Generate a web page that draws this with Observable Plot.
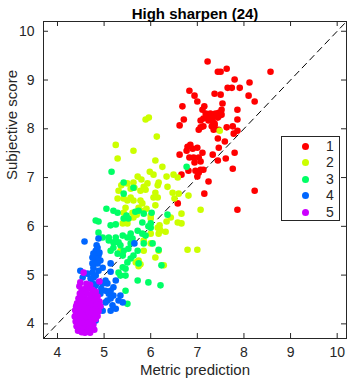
<!DOCTYPE html>
<html><head><meta charset="utf-8">
<script src="https://cdn.jsdelivr.net/npm/d3@7"></script>
<script src="https://cdn.jsdelivr.net/npm/@observablehq/plot@0.6"></script>
<style>
body{margin:0;background:#fff;}
#wrap{position:relative;width:351px;height:385px;font-family:"Liberation Sans",Arial,sans-serif;}
#legend{position:absolute;left:281px;top:136px;width:59px;height:85px;border:1px solid #262626;background:#fff;box-sizing:border-box;}
.lrow{position:absolute;left:0;width:57px;height:16px;}
.lrow .m{position:absolute;left:20px;top:4px;width:7px;height:7px;border-radius:50%;}
.lrow .t{position:absolute;left:44px;top:-1px;font-size:14px;color:#262626;line-height:16px;}
</style></head><body><div id="wrap"></div>
<script>
const groups = ["1","2","3","4","5"];
const colors = ["#ff0000","#ccff00","#00ff66","#0066ff","#cc00ff"];
const xTicks = [4,5,6,7,8,9,10];
const yTicks = [4,5,6,7,8,9,10];
const domain = [3.7, 10.2];
const title = "High sharpen (24)";
const xLabel = "Metric prediction";
const yLabel = "Subjective score";

const g1 = [[7.22,9.38],[7.44,9.17],[7.50,9.17],[7.63,9.23],[8.57,9.17],[7.80,9.01],[8.12,8.95],[7.65,8.84],[7.74,8.84],[7.91,8.84],
[6.83,8.78],[7.37,8.72],[7.50,8.70],[6.94,8.68],[8.10,8.68],[7.00,8.56],[8.23,8.56],[7.54,8.52],[6.68,8.46],[7.15,8.46],
[7.11,8.39],[7.52,8.39],[7.86,8.39],[7.18,8.31],[7.28,8.31],[7.39,8.31],[7.46,8.33],[7.22,8.23],[7.33,8.25],[7.44,8.23],
[7.52,8.29],[6.71,8.19],[7.24,8.17],[7.33,8.15],[7.37,8.11],[7.86,8.19],[6.62,8.07],[7.07,8.03],[7.13,8.05],[7.03,7.98],
[7.31,8.05],[7.37,8.07],[7.35,7.98],[7.63,8.03],[7.76,8.05],[7.86,7.96],[7.78,7.90],[7.46,7.98],[7.44,7.80],[7.59,7.74],
[7.46,7.61],[7.80,7.51],[7.61,7.39],[7.44,7.35],[7.76,7.18],[8.23,6.73],[7.24,6.92],[7.15,6.67],[6.79,7.63],[6.77,7.55],
[6.85,7.67],[6.90,7.59],[7.00,7.61],[7.11,7.51],[6.62,7.47],[6.83,7.41],[6.92,7.41],[7.03,7.41],[7.07,7.33],[6.94,7.31],
[7.33,7.47],[6.81,7.14],[6.96,7.14],[7.03,7.10],[7.07,7.16],[7.13,7.16],[6.66,7.06],[7.00,7.02],[7.86,6.34],[6.58,6.47],
[7.48,8.27],[7.07,8.17],[7.13,8.21]];

const g2 = [[5.89,8.19],[5.96,8.23],[6.13,7.84],[5.25,7.67],[5.63,7.55],[5.29,7.39],[6.10,7.35],[6.25,7.22],[5.98,7.12],[6.06,7.06],
[6.49,7.06],[6.58,7.00],[6.34,7.02],[5.72,7.02],[5.80,6.96],[5.63,6.90],[5.50,6.88],[5.37,6.84],[5.31,6.73],[5.57,6.77],
[5.65,6.79],[5.78,6.73],[5.89,6.75],[5.85,6.81],[5.93,6.88],[6.15,6.84],[6.17,6.90],[6.47,6.69],[6.60,6.67],[6.10,6.69],
[6.15,6.59],[6.06,6.59],[6.36,6.81],[6.81,6.63],[5.29,6.57],[5.42,6.57],[5.50,6.53],[5.63,6.53],[5.78,6.53],[5.82,6.47],
[5.74,6.38],[5.46,6.38],[5.42,6.28],[5.61,6.28],[5.63,6.18],[5.85,6.32],[6.51,6.57],[7.48,7.96],[7.07,6.34],[6.66,6.26],
[6.58,6.08],[6.66,6.06],[6.00,6.16],[6.15,5.97],[6.19,5.95],[6.32,5.89],[6.17,5.85],[6.00,5.85],[5.53,6.16],[5.40,6.06],
[5.50,6.06],[6.00,6.22],[6.43,6.18],[6.34,6.10],[6.19,6.02],[6.21,5.91],[6.79,5.52],[7.00,5.52],[5.85,5.50],[6.10,5.36],
[6.17,5.50],[6.00,5.65],[5.85,5.71],[5.35,5.50],[5.40,5.46],[6.28,5.20],[5.68,5.26],[5.74,5.30],[5.78,5.22],[5.74,5.18],
[5.91,6.36],[6.10,6.43],[5.70,6.24],[5.57,6.59]];

const g3 = [[5.16,7.12],[5.42,6.90],[5.63,6.79],[5.42,6.67],[6.77,7.22],[5.05,6.36],[5.20,6.32],[5.29,6.28],[5.67,6.30],[5.74,6.32],
[5.85,6.26],[6.02,6.28],[6.36,6.24],[4.82,6.12],[4.88,6.10],[5.14,6.02],[5.25,6.04],[5.42,6.16],[5.52,6.16],[5.48,6.22],
[5.82,6.08],[5.95,6.00],[6.00,6.06],[6.00,5.97],[4.88,5.87],[4.97,5.77],[5.10,5.71],[5.20,5.67],[5.31,5.67],[5.20,5.56],
[5.35,5.61],[5.42,5.50],[5.40,5.40],[5.29,5.44],[5.10,5.77],[5.25,5.77],[5.40,5.81],[5.57,5.85],[5.61,5.75],[5.72,5.91],
[5.82,5.85],[5.89,5.81],[5.50,5.77],[5.57,5.65],[5.85,5.65],[6.04,5.65],[6.17,5.52],[5.57,5.34],[5.63,5.40],[5.72,5.50],
[5.74,5.24],[5.50,5.26],[5.40,5.16],[5.46,5.13],[6.23,5.20],[5.72,4.89],[5.95,4.85],[6.21,4.79],[5.31,5.05],[5.35,4.99],
[5.50,4.41],[5.46,4.68],[5.14,5.50],[5.52,5.54],[5.46,4.99]];

const g4 = [[4.58,5.69],[4.88,5.75],[4.86,5.56],[4.82,5.50],[4.77,5.44],[4.88,5.40],[4.82,5.34],[4.92,5.30],[4.75,5.24],[4.86,5.24],
[4.77,5.15],[4.88,5.09],[4.97,5.15],[5.14,5.24],[5.14,5.07],[5.65,5.65],[4.49,5.09],[4.54,4.95],[4.64,5.03],[4.71,4.93],
[4.77,4.95],[4.75,4.83],[4.67,4.79],[4.82,4.79],[4.88,4.85],[4.97,4.83],[5.07,4.83],[5.03,4.68],[5.14,4.68],[5.20,4.75],
[5.10,4.62],[5.20,4.58],[5.35,4.58],[5.31,4.48],[5.40,4.44],[5.14,4.52],[5.07,4.48],[5.03,4.44],[5.18,4.38],[5.25,4.31],
[5.14,4.27],[4.97,4.27],[4.92,4.34],[4.82,4.07],[4.67,4.07],[4.77,4.03],[4.84,5.61],[4.75,5.36],[5.03,4.89],[4.94,4.72],
[4.79,4.75],[4.75,5.05],[4.82,4.99],[4.90,5.46],[4.92,4.62],[5.25,4.89]];

const g5 = [[4.56,5.05],[4.49,4.85],[4.90,4.87],[4.52,4.70],[4.60,4.72],[4.68,4.74],[4.75,4.70],[4.82,4.66],[4.48,4.62],[4.55,4.60],
[4.63,4.63],[4.70,4.60],[4.78,4.58],[4.86,4.56],[4.45,4.52],[4.52,4.50],[4.58,4.53],[4.65,4.50],[4.72,4.52],[4.80,4.48],
[4.90,4.46],[4.42,4.42],[4.50,4.40],[4.57,4.43],[4.63,4.40],[4.70,4.42],[4.77,4.38],[4.85,4.40],[4.92,4.36],[4.44,4.32],
[4.50,4.30],[4.56,4.33],[4.62,4.30],[4.68,4.32],[4.75,4.28],[4.82,4.30],[4.88,4.26],[4.40,4.22],[4.47,4.20],[4.53,4.23],
[4.60,4.20],[4.66,4.22],[4.72,4.18],[4.80,4.20],[4.86,4.16],[4.43,4.12],[4.50,4.10],[4.56,4.13],[4.62,4.10],[4.68,4.12],
[4.75,4.08],[4.82,4.10],[4.45,4.02],[4.52,4.00],[4.58,4.03],[4.64,4.00],[4.70,4.02],[4.77,3.98],[4.48,3.92],[4.55,3.90],
[4.61,3.93],[4.67,3.90],[4.73,3.92],[4.52,3.83],[4.59,3.82],[4.65,3.84],[4.70,3.82],[4.47,4.77],[4.62,4.82],[4.70,4.80],
[4.38,4.28],[4.37,4.15],[4.39,4.05],[4.41,3.95],[4.44,3.86],[4.40,4.36],[4.79,3.88]];

const series = [g1, g2, g3, g4, g5];
const rows = series.flatMap((s, i) => s.map(([x, y]) => ({x, y, g: groups[i]})));

const H = 385, W = 351, mT = 21, mB = 47, mL = 43, mR = 5;
const plotH = H - mT - mB, plotW = W - mL - mR;
const ink = "#262626";
const fmt = d => String(d);

const chart = Plot.plot({
  width: W, height: H,
  marginTop: mT, marginBottom: mB, marginLeft: mL, marginRight: mR,
  style: {fontFamily: "'Liberation Sans', Arial, sans-serif", fontSize: "14px", color: ink, background: "#fff"},
  x: {domain, ticks: xTicks, label: null},
  y: {domain, ticks: yTicks, label: null},
  color: {domain: groups, range: colors},
  marks: [
    Plot.link([domain], {x1: d => d[0], y1: d => d[0], x2: d => d[1], y2: d => d[1], stroke: "#000", strokeWidth: 1, strokeDasharray: "7,4"}),
    Plot.dot(rows, {x: "x", y: "y", fill: "g", r: 3.3, stroke: null}),
    Plot.frame({stroke: ink}),
    Plot.tickX(xTicks, {x: d => d, insetTop: plotH - 5, stroke: ink}),
    Plot.tickX(xTicks, {x: d => d, insetBottom: plotH - 5, stroke: ink}),
    Plot.tickY(yTicks, {y: d => d, insetRight: plotW - 5, stroke: ink}),
    Plot.tickY(yTicks, {y: d => d, insetLeft: plotW - 5, stroke: ink}),
    Plot.axisX({ticks: xTicks, tickFormat: fmt, tickSize: 0, tickPadding: 9, label: null, fill: ink}),
    Plot.axisY({ticks: yTicks, tickFormat: fmt, tickSize: 0, tickPadding: 9, label: null, fill: ink}),
    Plot.text([xLabel], {text: d => d, frameAnchor: "bottom", dy: 36, fontSize: 15, fill: ink}),
    Plot.text([yLabel], {text: d => d, frameAnchor: "left", rotate: -90, dx: -31, fontSize: 15, fill: ink}),
    Plot.text([title], {text: d => d, frameAnchor: "top", dy: -13, fontSize: 15, fontWeight: "bold", fill: "#000"})
  ]
});

const wrap = document.getElementById("wrap");
wrap.appendChild(chart);
const legend = document.createElement("div");
legend.id = "legend";
groups.forEach((g, i) => {
  const row = document.createElement("div");
  row.className = "lrow";
  row.style.top = (2 + i * 16.4) + "px";
  const m = document.createElement("div");
  m.className = "m";
  m.style.background = colors[i];
  const t = document.createElement("div");
  t.className = "t";
  t.textContent = g;
  row.appendChild(m); row.appendChild(t);
  legend.appendChild(row);
});
wrap.appendChild(legend);
</script></body></html>
